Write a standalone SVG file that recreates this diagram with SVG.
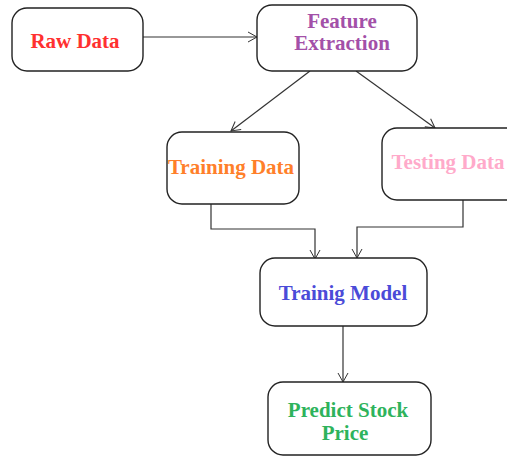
<svg xmlns="http://www.w3.org/2000/svg" width="507" height="456" viewBox="0 0 507 456">
<defs>
<marker id="arr" markerWidth="12" markerHeight="12" refX="10" refY="6" orient="auto" markerUnits="userSpaceOnUse">
<path d="M1,1 L10,6 L1,11" fill="none" stroke="#333" stroke-width="1"/>
</marker>
<style>
.box{fill:#fff;stroke:#222;stroke-width:1.4}
.lbl{font-family:"Liberation Serif","Times New Roman",serif;font-weight:bold;font-size:21px;text-anchor:middle}
.con{fill:none;stroke:#333;stroke-width:1.2}
</style>
</defs>
<rect width="507" height="456" fill="#fff"/>
<g id="connectors">
<path class="con" d="M143,37 L257,37" marker-end="url(#arr)"/>
<path class="con" d="M310,71 L231,131" marker-end="url(#arr)"/>
<path class="con" d="M356,71 L435,128" marker-end="url(#arr)"/>
<path class="con" d="M211,204 L211,229 L315,229 L315,259" marker-end="url(#arr)"/>
<path class="con" d="M463,200 L463,227 L357,227 L357,258" marker-end="url(#arr)"/>
<path class="con" d="M343,326 L343,382" marker-end="url(#arr)"/>
</g>
<g id="raw">
<rect class="box" x="12" y="8" width="131" height="63" rx="15"/>
<text class="lbl" x="75" y="48" fill="#ff3030">Raw Data</text>
</g>
<g id="feature">
<rect class="box" x="257" y="5" width="160" height="66" rx="15"/>
<text class="lbl" x="342" y="28" fill="#a350a8">Feature</text>
<text class="lbl" x="342" y="50" fill="#a350a8">Extraction</text>
</g>
<g id="training">
<rect class="box" x="167" y="132" width="132" height="72" rx="15"/>
<text class="lbl" x="231" y="174" fill="#ff7f2a">Training Data</text>
</g>
<g id="testing">
<rect class="box" x="382" y="128" width="140" height="72" rx="15"/>
<text class="lbl" x="448" y="169" fill="#ffaaca">Testing Data</text>
</g>
<g id="model">
<rect class="box" x="260" y="258" width="167" height="68" rx="15"/>
<text class="lbl" x="343" y="300" fill="#4b4bd8">Trainig Model</text>
</g>
<g id="predict">
<rect class="box" x="268" y="382" width="163" height="73" rx="15"/>
<text class="lbl" x="348" y="417" fill="#2eb35c">Predict Stock</text>
<text class="lbl" x="345" y="440" fill="#2eb35c">Price</text>
</g>
</svg>
